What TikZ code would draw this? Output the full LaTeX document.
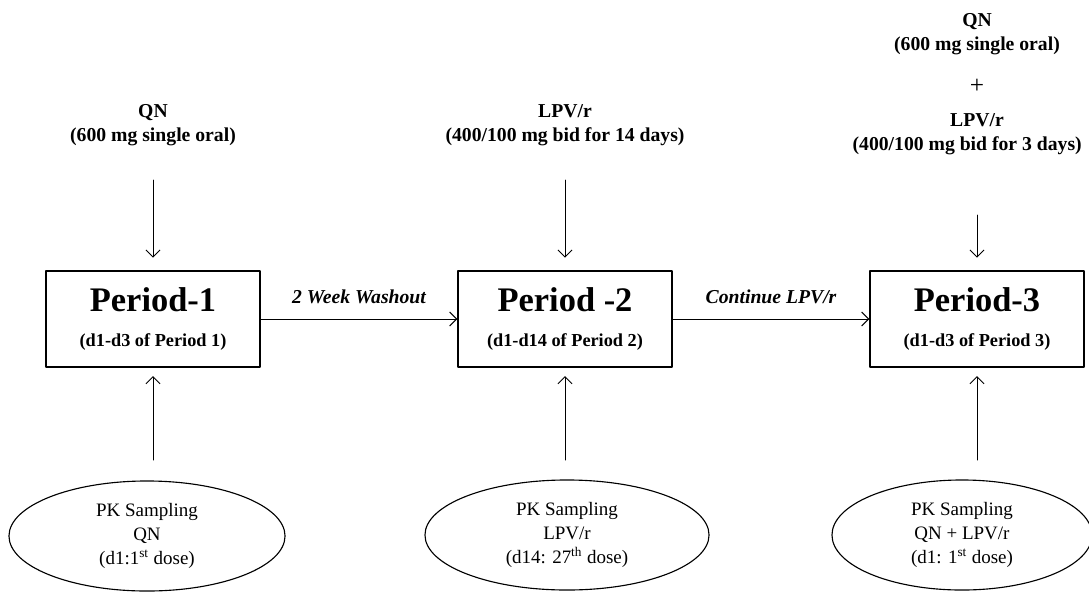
\documentclass[tikz,border=0pt]{standalone}
\usepackage{fontspec}
\setmainfont{Liberation Serif}
\usetikzlibrary{arrows.meta,shapes.geometric,calc}

\begin{document}
\begin{tikzpicture}[line cap=round,line join=round,>={Straight Barb[length=5pt,width=10pt]},x=0.025cm,y=-0.025cm,
    period/.style={draw,line width=0.9pt,minimum width=5.35cm,minimum height=2.4cm,align=center,inner sep=0pt,
        font=\bfseries\fontsize{13}{15}\selectfont},
    sampling/.style={draw,ellipse,line width=0.8pt,minimum width=6.9cm,minimum height=2.75cm,align=center,inner sep=0pt,
        font=\fontsize{13.5}{17}\selectfont},
    dose/.style={anchor=north,align=center,inner sep=0pt,font=\bfseries\fontsize{14}{17}\selectfont},
    gap/.style={font=\bfseries\itshape\fontsize{14}{17}\selectfont},
    link/.style={->,line width=0.7pt}]
    \useasboundingbox (0,0) rectangle (1089,592);
    \node[period] (p1) at (153,319) {{\fontsize{24.5}{28}\selectfont Period-1}\\[9.5pt](d1-d3 of Period 1)};
    \node[period] (p2) at (565,319) {{\fontsize{24.5}{28}\selectfont Period -2}\\[9.5pt](d1-d14 of Period 2)};
    \node[period] (p3) at (977,319) {{\fontsize{24.5}{28}\selectfont Period-3}\\[9.5pt](d1-d3 of Period 3)};
    \node[dose] (d1) at (153,104) {QN\\(600 mg single oral)};
    \node[dose] (d2) at (565,104) {LPV/r\\(400/100 mg bid for 14 days)};
    \node[dose] (d3) at (977,13) {QN\\(600 mg single oral)\\[14pt]{\mdseries\fontsize{18}{18}\selectfont +}\\[6pt]LPV/r\\\hspace*{-14pt}(400/100 mg bid for 3 days)};
    \node[sampling] (s1) at (147,536) {PK Sampling\\QN\\(d1:1\textsuperscript{st} dose)};
    \node[sampling,minimum width=7.1cm] (s2) at (567,535) {PK Sampling\\LPV/r\\(d14: 27\textsuperscript{th} dose)};
    \node[sampling,minimum width=6.5cm] (s3) at (962,535) {PK Sampling\\QN + LPV/r\\(d1: 1\textsuperscript{st} dose)};
    \draw[link] (p1) -- node[gap,above=7pt] {2 Week Washout} (p2);
    \draw[link] (p2) -- node[gap,above=7pt] {Continue LPV/r} (p3);
    \draw[link,shorten >=9pt] (d1 |- 0,180) -- (p1.north);
    \draw[link,shorten >=9pt] (d2 |- 0,180) -- (p2.north);
    \draw[link,shorten >=9pt] (p3 |- 0,215) -- (p3.north);
    \draw[link,shorten >=6pt] (p1.south |- 0,460) -- (p1.south);
    \draw[link,shorten >=6pt] (p2.south |- 0,460) -- (p2.south);
    \draw[link,shorten >=6pt] (p3.south |- 0,460) -- (p3.south);
\end{tikzpicture}
\end{document}
